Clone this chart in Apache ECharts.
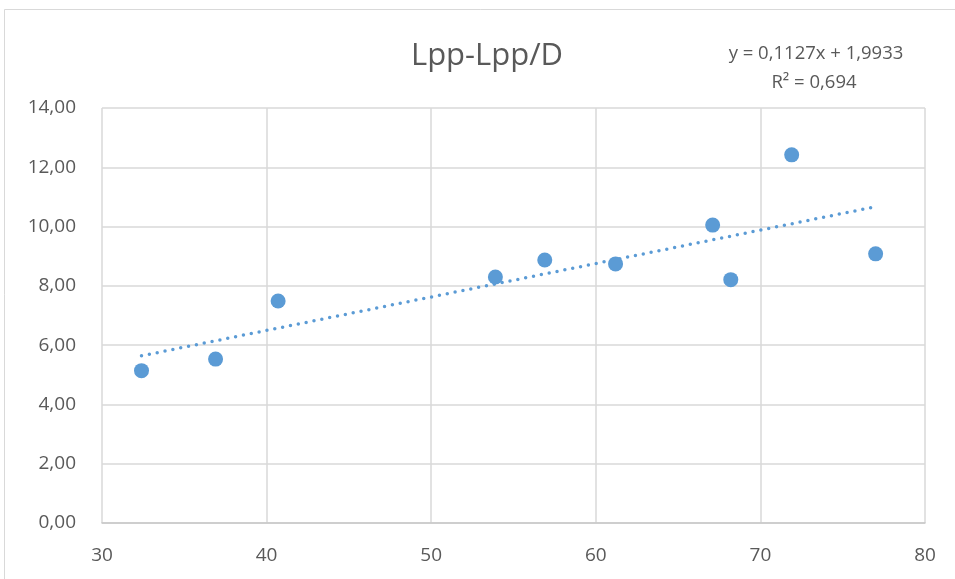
<!DOCTYPE html>
<html>
<head>
    <meta charset="utf-8">
    <script src="https://cdn.jsdelivr.net/npm/echarts@6/dist/echarts.min.js"></script>
    <style>
        html, body { margin: 0; padding: 0; background: #fff; }
    </style>
</head>
<body>
<div id="main" style="width: 955px;height:579px;"></div>
<script type="text/javascript">
    // Lpp values and Lpp/D values
    const lpp = [32.4, 36.9, 40.7, 53.9, 56.9, 61.2, 67.1, 68.2, 71.9, 77.0];
    const lppD = [5.14, 5.53, 7.49, 8.30, 8.87, 8.74, 10.05, 8.21, 12.42, 9.08];
    // ends of the linear trendline (as drawn)
    const trendX = [32.4, 77.0];
    const trendY = [5.64, 10.67];
    const equationText = 'y = 0,1127x + 1,9933';
    const r2Text = 'R² = 0,694';

    const font = "'Liberation Sans Narrow', 'Open Sans', sans-serif";
    const textColor = '#595959';
    const blue = '#5b9bd5';

    const points = lpp.map((x, i) => [x, lppD[i]]);
    const trend = trendX.map((x, i) => [x, trendY[i]]);

    const myChart = echarts.init(document.getElementById('main'));

    const option = {
        backgroundColor: '#fff',
        animation: false,
        title: {
            text: 'Lpp-Lpp/D',
            left: 482,
            top: 36,
            textAlign: 'center',
            textStyle: { fontFamily: font, fontSize: 31, fontWeight: 'normal', color: textColor }
        },
        graphic: [
            {
                type: 'rect',
                shape: { x: 4.5, y: 9.5, width: 1000, height: 1000 },
                style: { fill: 'none', stroke: '#d9d9d9', lineWidth: 1 }
            },
            {
                type: 'text',
                style: { text: equationText, x: 816, y: 44, textAlign: 'center',
                    fontFamily: font, fontSize: 18.5, fill: textColor }
            },
            {
                type: 'text',
                style: { text: r2Text, x: 814, y: 73, textAlign: 'center',
                    fontFamily: font, fontSize: 18.5, fill: textColor }
            }
        ],
        grid: { left: 102, right: 30, top: 108, bottom: 56 },
        xAxis: {
            type: 'value',
            min: 30, max: 80, interval: 10,
            axisLine: { show: true, lineStyle: { color: '#c8c8c8', width: 1.5 } },
            axisTick: { show: false },
            axisLabel: { fontFamily: font, fontSize: 19, color: textColor, margin: 23 },
            splitLine: { show: true, lineStyle: { color: '#d9d9d9', width: 1.5 } }
        },
        yAxis: {
            type: 'value',
            min: 0, max: 14, interval: 2,
            axisLine: { show: false },
            axisTick: { show: false },
            axisLabel: {
                fontFamily: font, fontSize: 19, color: textColor, margin: 26,
                formatter: v => v.toFixed(2).replace('.', ',')
            },
            splitLine: { show: true, lineStyle: { color: '#d9d9d9', width: 1.5 } }
        },
        series: [
            {
                type: 'line',
                data: trend,
                symbol: 'none',
                lineStyle: { color: blue, width: 3.5, type: [0, 8], cap: 'round' },
                z: 1
            },
            {
                type: 'scatter',
                data: points,
                symbolSize: 15,
                itemStyle: { color: blue, opacity: 1 },
                z: 2
            }
        ]
    };

    myChart.setOption(option);
</script>
</body>
</html>
